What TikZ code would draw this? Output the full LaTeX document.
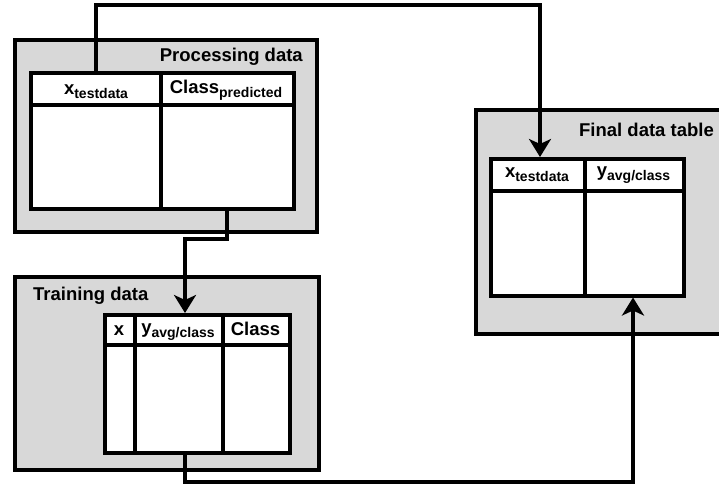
\documentclass[tikz,border=0pt]{standalone}
\usepackage{fontspec}
\setmainfont{Liberation Sans}
\usetikzlibrary{arrows.meta,calc}
\definecolor{boxgray}{RGB}{216,216,216}
\newcommand{\hdr}[2]{{\fontsize{18.5}{20}\selectfont #1}\raisebox{-4.5pt}{\fontsize{14}{15}\selectfont #2}}
\begin{document}
\begin{tikzpicture}[x=1pt,y=-1pt,
  outerbox/.style={draw,line width=3.5pt,fill=boxgray,inner sep=0pt,anchor=north west},
  tablebox/.style={draw,line width=3.5pt,fill=white,inner sep=0pt,anchor=north west},
  titletext/.style={font=\bfseries\fontsize{18.5}{20}\selectfont,inner sep=0pt},
  hd/.style={font=\bfseries,inner sep=0pt,anchor=base},
  grid/.style={line width=3.5pt},
  conn/.style={line width=3.2pt},
  arr/.style={conn,-{Stealth[length=18pt,width=22pt,inset=5pt]}}]
\useasboundingbox[fill=white] (0,0) rectangle (719,485);

% outer boxes
\node[outerbox,minimum width=302pt,minimum height=192pt] (proc) at (13,38) {};
\node[outerbox,minimum width=304pt,minimum height=193pt] (train) at (13,275) {};
\node[outerbox,minimum width=260pt,minimum height=224pt] (final) at (474,108) {};

% titles
\node[titletext,anchor=base east] (proct) at (303,61) {Processing data};
\node[titletext,anchor=base west] (traint) at (33,300) {Training data};
\node[titletext,anchor=base east] (finalt) at (714,136) {Final data table};

% tables
\node[tablebox,minimum width=263pt,minimum height=136pt] (procT) at (29,71) {};
\draw[grid] (29,105) -- (292,105);
\draw[grid] (161,71) -- (161,207);
\node[hd] (ph1) at (96,94) {\hdr{x}{testdata}};
\node[hd] (ph2) at (226,93) {\hdr{Class}{predicted}};

\node[tablebox,minimum width=185pt,minimum height=138pt] (trainT) at (103,313) {};
\draw[grid] (103,345) -- (288,345);
\draw[grid] (135,313) -- (135,451);
\draw[grid] (223,313) -- (223,451);
\node[hd] (th1) at (119,335) {\hdr{x}{}};
\node[hd] (th2) at (178,333) {\hdr{y}{avg/class}};
\node[hd] (th3) at (255.5,335) {\hdr{Class}{}};

\node[tablebox,minimum width=193pt,minimum height=137pt] (finalT) at (489,157) {};
\draw[grid] (489,191) -- (682,191);
\draw[grid] (585,157) -- (585,294);
\node[hd] (fh1) at (537,177) {\hdr{x}{testdata}};
\node[hd] (fh2) at (633.5,176) {\hdr{y}{avg/class}};

% connectors
\coordinate (a1) at (96,5);
\coordinate (a2) at (540,5);
\draw[arr] (procT.north -| a1) -- (a1) -- (a2) -- (finalT.north -| a2);

\coordinate (b1) at (227,239);
\coordinate (b2) at (185,239);
\draw[arr] (procT.south -| b1) -- (b1) -- (b2) -- (trainT.north -| b2);

\coordinate (c1) at (185,482);
\coordinate (c2) at (633,482);
\draw[arr] (trainT.south -| c1) -- (c1) -- (c2) -- (finalT.south -| c2);
\end{tikzpicture}
\end{document}
